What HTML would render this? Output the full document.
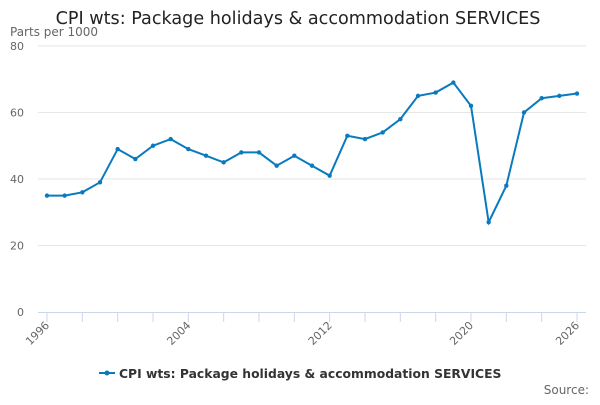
<!DOCTYPE html>
<html><head><meta charset="utf-8"><style>
body{margin:0;background:#fff;font-family:"Liberation Sans","DejaVu Sans",sans-serif}
svg text{font-family:"DejaVu Sans","Liberation Sans",sans-serif}
</style></head><body>
<svg id="c" width="600" height="400">
<text x="298" y="24" text-anchor="middle" font-size="17.6" fill="#222">CPI wts: Package holidays &amp; accommodation SERVICES</text>
<text x="10" y="36" font-size="12" fill="#666">Parts per 1000</text>
<g id="grid"></g><g id="xa"></g><g id="series"></g>
<g>
<line x1="99" y1="373" x2="115" y2="373" stroke="#0a7abf" stroke-width="2"/>
<circle cx="107" cy="373" r="2.5" fill="#0a7abf"/>
<text x="119" y="378" font-size="12.35" font-weight="bold" fill="#333">CPI wts: Package holidays &amp; accommodation SERVICES</text>
</g>
<text x="589" y="394" text-anchor="end" font-size="12" fill="#666">Source:</text>
</svg>
<script>
const years=[1996,1997,1998,1999,2000,2001,2002,2003,2004,2005,2006,2007,2008,2009,2010,2011,2012,2013,2014,2015,2016,2017,2018,2019,2020,2021,2022,2023,2024,2025,2026];
const values=[35,35,36,39,49,46,50,52,49,47,45,48,48,44,47,44,41,53,52,54,58,65,66,69,62,27,38,60,64.3,65,65.7];
const yTicks=[0,20,40,60,80];
const xLabels=[1996,2004,2012,2020,2026];
const NS="http://www.w3.org/2000/svg";
const X=y=>47+(y-1996)*(530/30);
const Y=v=>312-v*(266/80);
function mk(t,a,p){const e=document.createElementNS(NS,t);for(const k in a)e.setAttribute(k,a[k]);p.appendChild(e);return e;}
const grid=document.getElementById('grid'),xa=document.getElementById('xa'),s=document.getElementById('series');
yTicks.forEach(v=>{
 if(v>0){const l=mk('line',{x1:38,x2:586,y1:Y(v),y2:Y(v),stroke:'#e6e6e6'},grid);
 
 }
 const t=mk('text',{x:24,y:Y(v)+4,'text-anchor':'end','font-size':11,fill:'#666'},grid);t.textContent=v;
 
 
});
const ax=mk('line',{x1:38,x2:586,y1:312.5,y2:312.5,stroke:'#ccd6eb'},xa);


for(let y=1996;y<=2026;y+=2){const tk=mk('line',{x1:X(y),x2:X(y),y1:312,y2:322,stroke:'#ccd6eb'},xa);
 
 }
xLabels.forEach(y=>{const t=mk('text',{x:X(y)+3,y:326,'text-anchor':'end','font-size':11,fill:'#666',transform:`rotate(-45 ${X(y)+3} 326)`},xa);t.textContent=y;
 
 });
const pl=mk('polyline',{points:years.map((y,i)=>X(y)+','+Y(values[i])).join(' '),fill:'none',stroke:'#0a7abf','stroke-width':2},s);


years.forEach((y,i)=>{const c=mk('circle',{cx:X(y),cy:Y(values[i]),r:2.2,fill:'#0a7abf'},s);
 
 });
</script>
</body></html>
